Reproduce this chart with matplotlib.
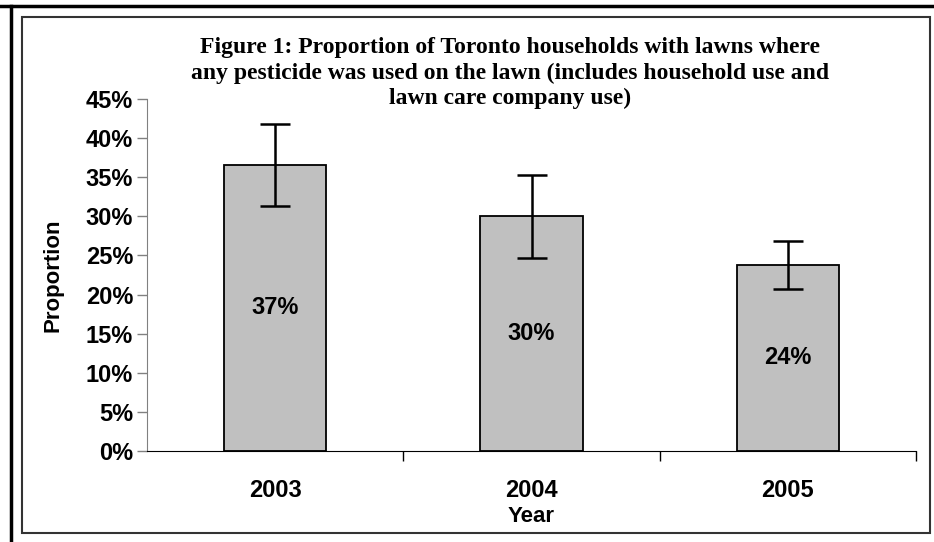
import matplotlib
matplotlib.use("Agg")
import matplotlib.pyplot as plt
import numpy as np
from matplotlib.lines import Line2D
from matplotlib.patches import Rectangle

# data
years = ["2003", "2004", "2005"]
proportion = [36.6, 30.0, 23.8]
ci = [5.25, 5.3, 3.1]
labels = ["37%", "30%", "24%"]

W, H = 934, 542
fig = plt.figure(figsize=(W / 100, H / 100), dpi=100)

# page border lines + chart frame
fig.add_artist(Line2D([0, 1], [1 - 6 / H, 1 - 6 / H], color="black", lw=2.5, transform=fig.transFigure))
fig.add_artist(Line2D([11 / W, 11 / W], [0, 1 - 6 / H], color="black", lw=2.5, transform=fig.transFigure))
fig.add_artist(Rectangle((22 / W, 9 / H), (930 - 22) / W, (525 - 9) / H, fill=False,
                         ec="#333333", lw=1.5, transform=fig.transFigure))

ax = fig.add_axes([147 / W, 1 - 451 / H, (916 - 147) / W, (451 - 99) / H])

x = np.arange(len(years))
ax.bar(x, proportion, width=0.4, color="#C0C0C0", edgecolor="black", lw=1.3, zorder=2)
ax.errorbar(x, proportion, yerr=ci, fmt="none", ecolor="black", elinewidth=1.8,
            capsize=11, capthick=1.8, zorder=3)

for xi, v, lab in zip(x, proportion, labels):
    ax.text(xi, v / 2, lab, ha="center", va="center", fontsize=17,
            fontweight="bold", family="Liberation Sans")

ax.set_xlim(-0.5, 2.5)
ax.set_ylim(0, 45)
ax.set_yticks(np.arange(0, 46, 5))
ax.set_yticklabels([f"{t}%" for t in range(0, 46, 5)])
ax.set_xticks(x)
ax.set_xticklabels(years)
ax.set_xticks([0.5, 1.5, 2.5], minor=True)
ax.tick_params(axis="x", which="major", length=0, pad=20)
ax.tick_params(axis="x", which="minor", length=7, color="black", width=1)
ax.tick_params(axis="y", length=7, color="#808080", width=1, pad=3)

for lab in ax.get_xticklabels() + ax.get_yticklabels():
    lab.set_fontsize(17)
    lab.set_fontweight("bold")
    lab.set_family("Liberation Sans")

ax.spines["top"].set_visible(False)
ax.spines["right"].set_visible(False)
ax.spines["left"].set_color("#808080")
ax.spines["bottom"].set_color("black")

ax.set_ylabel("Proportion", fontsize=16, fontweight="bold", family="Liberation Sans", labelpad=16)
ax.set_xlabel("Year", fontsize=16, fontweight="bold", family="Liberation Sans", labelpad=3)

fig.text(510 / W, 1 - 73 / H,
         "Figure 1: Proportion of Toronto households with lawns where\n"
         "any pesticide was used on the lawn (includes household use and\n"
         "lawn care company use)",
         ha="center", va="center", fontsize=17, fontweight="bold",
         family="Liberation Serif", linespacing=1.24)

fig.savefig("out.png", dpi=100)
